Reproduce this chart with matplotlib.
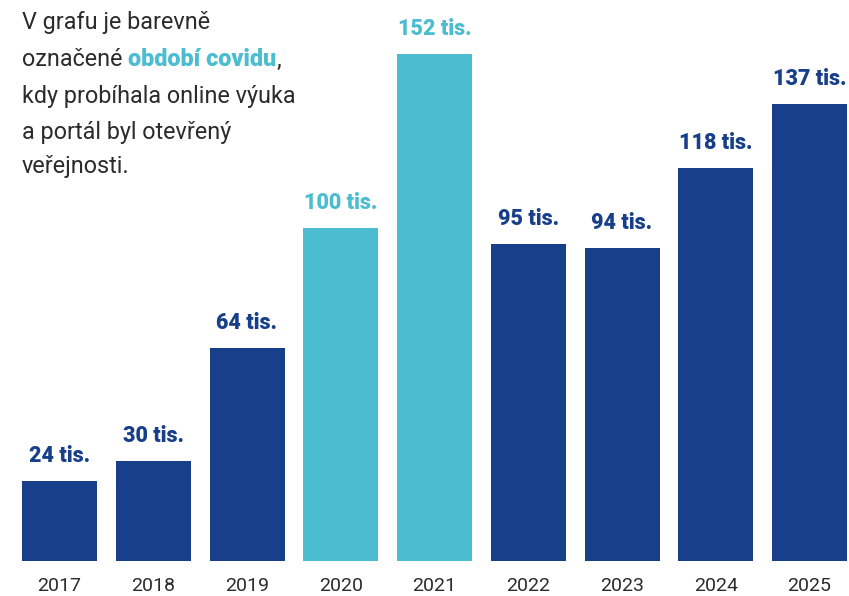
import matplotlib.pyplot as plt

years = ["2017", "2018", "2019", "2020", "2021", "2022", "2023", "2024", "2025"]
values = [24, 30, 64, 100, 152, 95, 94, 118, 137]
labels = ["24 tis.", "30 tis.", "64 tis.", "100 tis.", "152 tis.", "95 tis.", "94 tis.", "118 tis.", "137 tis."]
covid = ["2020", "2021"]

dark = "#173f8a"
cyan = "#4cbdd0"
grey = "#2b2b2b"

plt.rcParams["font.family"] = ["Roboto", "DejaVu Sans"]

fig = plt.figure(figsize=(8.49, 5.96), dpi=100)
# axes fills the width; bottom of the bars at 35 px from bottom
ax = fig.add_axes([0, 35 / 596, 1, 561 / 596])
x = list(range(len(years)))
colors = [cyan if y in covid else dark for y in years]
ax.bar(x, values, width=0.8, color=colors)
ax.set_xlim(-59.5 / 93.75, (849 - 59.5) / 93.75)
ax.set_ylim(0, 561 / 3.333)
ax.axis("off")

for i, v in enumerate(values):
    ax.annotate(labels[i], (x[i], v), xytext=(0, 10), textcoords="offset points",
                ha="center", va="bottom", fontsize=15.5, fontweight="heavy", color=colors[i])
    ax.annotate(years[i], (x[i], 0), xytext=(0, -18), textcoords="offset points",
                ha="center", va="center", fontsize=14, color=grey)

# paragraph in top left corner, second line has a coloured part
fs = 16.8
x0 = 22 / 849
lines_y = [23, 60, 96, 132, 167]
texts = ["V grafu je barevně", None, "kdy probíhala online výuka", "a portál byl otevřený", "veřejnosti."]
renderer = fig.canvas.get_renderer()
for t, yy in zip(texts, lines_y):
    ypos = 1 - yy / 596
    if t is not None:
        fig.text(x0, ypos, t, fontsize=fs, color=grey, va="center")
    else:
        a = fig.text(x0, ypos, "označené ", fontsize=fs, color=grey, va="center")
        bb = a.get_window_extent(renderer)
        b = fig.text(bb.x1 / 849, ypos, "období covidu", fontsize=fs, color=cyan,
                     fontweight="heavy", va="center")
        bb2 = b.get_window_extent(renderer)
        fig.text(bb2.x1 / 849, ypos, ",", fontsize=fs, color=grey, va="center")

fig.savefig("out.png", dpi=100)
